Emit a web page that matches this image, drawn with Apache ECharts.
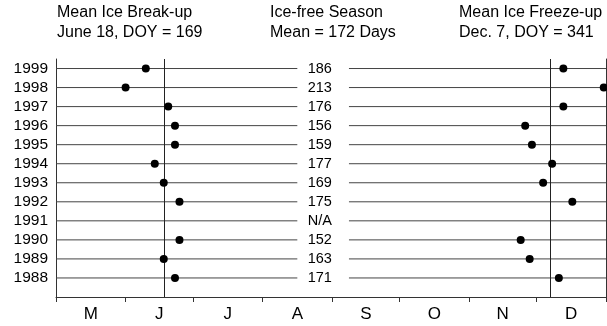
<!DOCTYPE html>
<html>
<head>
<meta charset="utf-8">
<script src="https://cdn.jsdelivr.net/npm/echarts@6/dist/echarts.min.js"></script>
<style>html,body{margin:0;padding:0;background:#fff}#c{width:607px;height:326px}</style>
</head>
<body>
<div id="c"></div>
<script>
// ---- data (day of year) ----
const years = [1988, 1989, 1990, 1991, 1992, 1993, 1994, 1995, 1996, 1997, 1998, 1999];
const breakUp = [174, 169, 176, null, 176, 169, 165, 174, 174, 171, 152, 161];
const freezeUp = [345, 332, 328, null, 351, 338, 342, 333, 330, 347, 365, 347];
const iceFreeDays = ['171', '163', '152', 'N/A', '175', '169', '177', '159', '156', '176', '213', '186'];
const monthLabels = ['M', 'J', 'J', 'A', 'S', 'O', 'N', 'D'];
const monthStarts = [121, 152, 182, 213, 244, 274, 305, 335, 366];
const meanBreakUp = 169;
const meanFreezeUp = 341;
const titles = [
  'Mean Ice Break-up\nJune 18, DOY = 169',
  'Ice-free Season\nMean = 172 Days',
  'Mean Ice Freeze-up\nDec. 7, DOY = 341'
];

// layout constants (axis units)
const X_MIN = 121, X_MAX = 366;
const GAP_START = 228.5, GAP_END = 251.5, LABEL_X = 238.5;

const FONT = '"Liberation Sans", Arial, Helvetica, sans-serif';
const monthMids = monthLabels.map((m, i) => (monthStarts[i] + monthStarts[i + 1]) / 2);

const chart = echarts.init(document.getElementById('c'), null, {renderer: 'canvas'});

const rowData = years.map((y, i) => [y, iceFreeDays[i]]);
const toPts = arr => years.map((y, i) => arr[i] == null ? null : [arr[i], y]).filter(Boolean);

chart.setOption({
  animation: false,
  backgroundColor: '#fff',
  title: titles.map((t, i) => ({
    text: t,
    left: [57, 270, 459][i],
    top: 3,
    padding: 0,
    textStyle: {fontFamily: FONT, fontSize: 16, fontWeight: 'normal', color: '#000', lineHeight: 19.5}
  })),
  grid: {left: 56, right: 1, top: 59, bottom: 29},
  xAxis: {
    type: 'value', min: X_MIN, max: X_MAX,
    axisLine: {show: true, lineStyle: {color: '#333', width: 1}},
    axisTick: {show: true, customValues: monthStarts, length: 5, lineStyle: {color: '#333'}},
    axisLabel: {
      customValues: monthMids,
      formatter: v => monthLabels[monthMids.indexOf(v)] || '',
      fontFamily: FONT, fontSize: 17, color: '#000', margin: 9
    },
    splitLine: {show: false}
  },
  yAxis: [{
    type: 'value', min: 1987, max: 1999.5,
    axisLine: {show: true, lineStyle: {color: '#333', width: 1}},
    axisTick: {show: false},
    axisLabel: {customValues: years, formatter: v => String(v), fontFamily: FONT, fontSize: 15.5, color: '#000', margin: 8},
    splitLine: {show: false}
  }, {
    type: 'value', min: 1987, max: 1999.5, position: 'right',
    axisLine: {show: true, lineStyle: {color: '#333', width: 1}},
    axisTick: {show: false}, axisLabel: {show: false}, splitLine: {show: false}
  }],
  series: [{
    type: 'custom',
    data: rowData,
    z: 1,
    renderItem: (params, api) => {
      const yr = api.value(0);
      const i = params.dataIndex;
      const p0 = api.coord([X_MIN, yr]);
      const p1 = api.coord([GAP_START, yr]);
      const p2 = api.coord([GAP_END, yr]);
      const p3 = api.coord([X_MAX, yr]);
      const pt = api.coord([LABEL_X, yr]);
      const ls = {stroke: '#444', lineWidth: 1};
      return {type: 'group', children: [
        {type: 'line', shape: {x1: p0[0], y1: p0[1], x2: p1[0], y2: p1[1]}, style: ls},
        {type: 'line', shape: {x1: p2[0], y1: p2[1], x2: p3[0], y2: p3[1]}, style: ls},
        {type: 'text', x: pt[0], y: pt[1], style: {text: rowData[i][1], fill: '#000', font: '14.5px ' + FONT, align: 'center', verticalAlign: 'middle'}}
      ]};
    }
  }, {
    type: 'scatter',
    data: toPts(breakUp),
    symbolSize: 8,
    itemStyle: {color: '#000', opacity: 1},
    z: 5,
    markLine: {
      silent: true, symbol: 'none', label: {show: false},
      lineStyle: {color: '#222', width: 1, type: 'solid'},
      data: [{xAxis: meanBreakUp}, {xAxis: meanFreezeUp}]
    }
  }, {
    type: 'scatter',
    data: toPts(freezeUp),
    symbolSize: 8,
    itemStyle: {color: '#000', opacity: 1},
    z: 5
  }]
});
</script>
</body>
</html>
